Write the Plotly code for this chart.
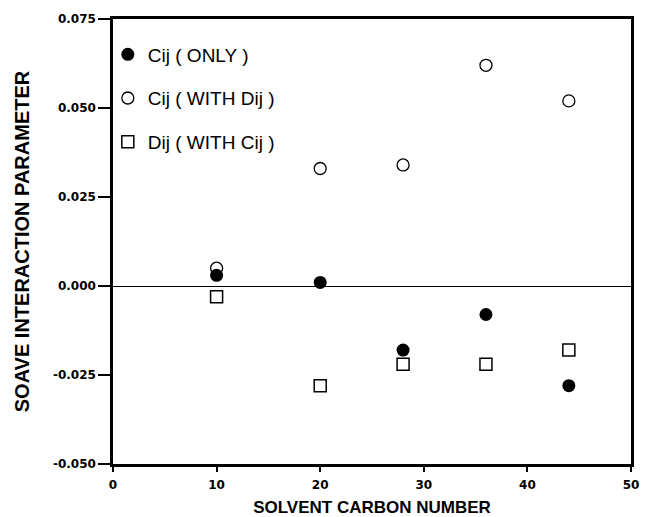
import plotly.graph_objects as go

carbon = [10, 20, 28, 36, 44]
cij_only = [0.003, 0.001, -0.018, -0.008, -0.028]
cij_with_dij = [0.005, 0.033, 0.034, 0.062, 0.052]
dij_with_cij = [-0.003, -0.028, -0.022, -0.022, -0.018]

y_tickvals = [0.075, 0.050, 0.025, 0.000, -0.025, -0.050]
y_ticktext = ["0.075", "0.050", "0.025", "0.000", "-0.025", "-0.050"]
x_tickvals = [0, 10, 20, 30, 40, 50]

fig = go.Figure()
fig.add_trace(go.Scatter(x=carbon, y=cij_only, mode="markers", name="Cij ( ONLY )",
                         legendgroup="a",
                         marker=dict(symbol="circle", size=13, color="black")))
fig.add_trace(go.Scatter(x=carbon, y=cij_with_dij, mode="markers", name="Cij ( WITH Dij )",
                         legendgroup="b",
                         marker=dict(symbol="circle-open", size=12, color="black",
                                     line=dict(width=1.3, color="black"))))
fig.add_trace(go.Scatter(x=carbon, y=dij_with_cij, mode="markers", name="Dij ( WITH Cij )",
                         legendgroup="c",
                         marker=dict(symbol="square-open", size=12, color="black",
                                     line=dict(width=1.5, color="black"))))

fig.update_layout(
    width=646, height=517,
    margin=dict(l=113, r=14, t=17, b=53),
    plot_bgcolor="white", paper_bgcolor="white",
    showlegend=True,
    legend=dict(x=-0.01, y=0.963, xanchor="left", yanchor="top",
                font=dict(family="Liberation Sans, Arial", size=19, color="black"),
                bgcolor="rgba(0,0,0,0)", traceorder="grouped", tracegroupgap=16),
    xaxis=dict(range=[0, 50], tickvals=x_tickvals, showgrid=False, zeroline=False,
               automargin=False,
               showline=True, linecolor="black", linewidth=2.5, mirror=True,
               ticks="outside", ticklen=5, tickwidth=1.5, tickcolor="black",
               ticklabelstandoff=3,
               tickfont=dict(family="DejaVu Sans", size=12, color="black", weight="bold"),
               title=dict(text="<b>SOLVENT CARBON NUMBER</b>",
                          font=dict(family="Liberation Sans, Arial", size=17, color="black"))),
    yaxis=dict(range=[-0.050, 0.075], tickvals=y_tickvals, ticktext=y_ticktext,
               automargin=True,
               showgrid=False, zeroline=True, zerolinecolor="black", zerolinewidth=1.2,
               showline=True, linecolor="black", linewidth=2.5, mirror=True,
               ticks="outside", ticklen=12, tickwidth=1.5, tickcolor="black",
               tickfont=dict(family="DejaVu Sans", size=12, color="black", weight="bold"),
               title=dict(text="<b>SOAVE INTERACTION PARAMETER</b>", standoff=18,
                          font=dict(family="Liberation Sans, Arial", size=20, color="black"))),
)

fig.write_html(
    "out.html",
    config={"displayModeBar": False},
    post_script="document.body.style.margin='0';document.body.style.overflow='hidden';",
)
